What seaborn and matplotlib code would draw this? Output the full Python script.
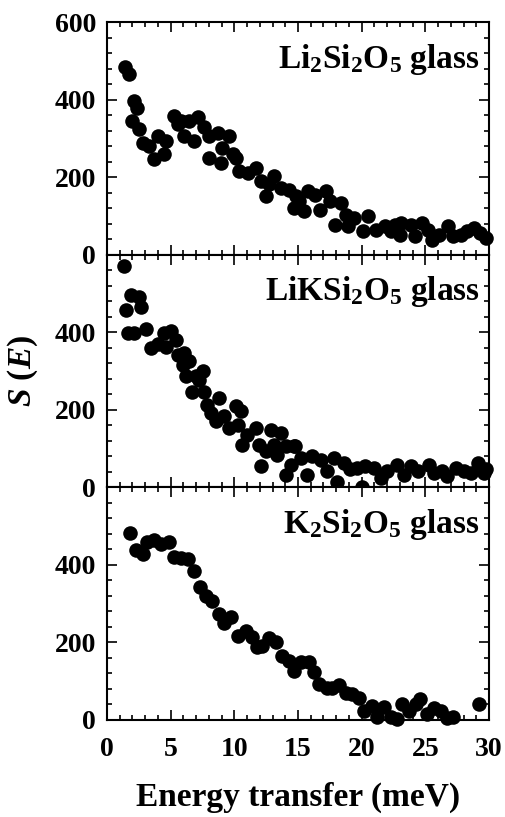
import numpy as np
import pandas as pd
import matplotlib
matplotlib.use("Agg")
import matplotlib.pyplot as plt
from matplotlib.ticker import MultipleLocator
import seaborn as sns

# ---- data ----
li_E = [1.42, 1.76, 2.15, 2.36, 1.94, 2.54, 2.8, 3.33, 3.98, 3.72, 4.5, 4.63, 5.29, 5.82, 5.55,
        6.07, 6.46, 6.8, 7.17, 7.64, 8.03, 8.03, 8.68, 8.94, 9.07, 9.59, 9.86, 10.12, 10.38, 11.04,
        11.69, 12.08, 12.47, 12.74, 13.13, 13.65, 14.3, 14.7, 14.83, 15.1, 15.5, 15.77, 16.3, 16.7,
        17.2, 17.5, 17.9, 18.4, 18.8, 18.9, 19.4, 20.1, 20.5, 21.1, 21.8, 22.3, 22.6, 23.1, 23.0,
        23.9, 24.2, 24.7, 25.2, 25.5, 26.1, 26.8, 27.2, 27.8, 28.3, 28.8, 29.3, 29.8]
li_S = [484, 467, 397, 378, 345, 324, 289, 280, 306, 246, 259, 293, 358, 345, 337,
        306, 345, 293, 356, 328, 306, 250, 315, 237, 276, 306, 259, 250, 216, 211,
        224, 190, 151, 181, 203, 172, 168, 120, 151, 138, 112, 164, 155, 116,
        165, 138, 77, 133, 103, 73, 94, 60, 99, 64, 73, 60, 77, 81, 51,
        77, 47, 81, 64, 38, 51, 73, 47, 51, 60, 68, 55, 42]

lik_E = [1.3, 1.88, 2.54, 1.49, 2.67, 1.61, 2.13, 3.06, 3.45, 3.97, 4.5, 5.02, 4.63, 5.41, 5.54,
         6.06, 6.45, 5.93, 6.2, 6.99, 7.5, 7.24, 6.64, 7.63, 7.89, 8.8, 8.15, 8.54, 9.2, 9.6,
         10.1, 10.5, 10.25, 10.64, 11.03, 11.68, 11.94, 12.07, 12.46, 12.86, 13.1, 13.37, 13.64,
         14.03, 14.42, 14.03, 14.68, 14.8, 15.2, 15.7, 16.1, 16.8, 17.3, 17.83, 18.1, 18.6, 19.1,
         19.66, 20.05, 20.3, 21.0, 21.5, 22.0, 22.8, 23.3, 23.85, 24.4, 25.3, 25.7, 26.3, 26.7,
         27.4, 28.0, 28.6, 29.1, 29.6, 29.8]
lik_S = [570, 497, 492, 458, 464, 398, 398, 409, 359, 369, 398, 402, 363, 381, 342,
         346, 325, 316, 286, 286, 299, 278, 247, 247, 213, 230, 191, 170, 183, 153,
         209, 196, 162, 110, 136, 153, 110, 54, 93, 149, 110, 84, 140,
         106, 58, 33, 106, 106, 76, 33, 80, 71, 41, 76, 15, 63, 46,
         50, 0, 54, 50, 24, 41, 58, 33, 54, 41, 58, 37, 41, 28,
         50, 41, 37, 63, 37, 46]

k_E = [1.83, 2.27, 2.79, 3.18, 3.71, 4.23, 4.89, 5.28, 5.8, 6.38, 6.8, 7.32, 7.76, 8.28, 8.8,
       9.2, 9.73, 10.25, 10.9, 11.42, 11.8, 12.2, 12.73, 13.25, 13.77, 14.3, 14.7, 15.2, 15.87,
       16.26, 16.65, 17.3, 17.7, 18.2, 18.75, 19.26, 19.8, 20.2, 20.8, 21.2, 21.75, 22.27, 22.8,
       23.2, 23.7, 24.24, 24.6, 25.15, 25.7, 26.2, 26.7, 27.2, 29.2]
k_S = [483, 438, 429, 458, 464, 454, 460, 421, 417, 415, 383, 344, 320, 306, 273,
       249, 265, 217, 230, 213, 187, 192, 212, 200, 166, 153, 127, 149, 149,
       123, 93, 83, 83, 91, 69, 67, 57, 24, 35, 7, 33, 7, 3,
       42, 24, 40, 55, 16, 31, 23, 6, 7, 42]

panel_labels = [r"Li$_2$Si$_2$O$_5$ glass", r"LiKSi$_2$O$_5$ glass", r"K$_2$Si$_2$O$_5$ glass"]
x_ticks = [0, 5, 10, 15, 20, 25, 30]
y_ticks_top = [0, 200, 400, 600]
y_ticks = [0, 200, 400]

# ---- style ----
sns.set_style("ticks")
plt.rcParams["font.family"] = ["Liberation Serif", "DejaVu Serif"]
plt.rcParams["font.weight"] = "bold"
plt.rcParams["text.color"] = "black"
plt.rcParams["xtick.color"] = "black"
plt.rcParams["ytick.color"] = "black"
plt.rcParams["axes.edgecolor"] = "black"
plt.rcParams["mathtext.fontset"] = "custom"
plt.rcParams["mathtext.rm"] = "Liberation Serif:bold"
plt.rcParams["mathtext.bf"] = "Liberation Serif:bold"
plt.rcParams["mathtext.it"] = "Liberation Serif:italic:bold"

fig = plt.figure(figsize=(5.05, 8.17), dpi=100)
left, right, bottom, top = 107/505, 489/505, 1 - 720/817, 1 - 22/817
h = (top - bottom) / 3
datasets = [(li_E, li_S), (lik_E, lik_S), (k_E, k_S)]
for i, (E, S) in enumerate(datasets):
    ax = fig.add_axes([left, top - (i + 1) * h, right - left, h])
    df = pd.DataFrame({"E": E, "S": S})
    sns.scatterplot(data=df, x="E", y="S", ax=ax, color="black", s=110,
                    linewidth=0, legend=False, zorder=3, clip_on=False)
    ax.set_xlim(0, 30)
    ax.set_ylim(0, 600)
    ax.set_xticks(x_ticks)
    ax.set_yticks(y_ticks_top if i == 0 else y_ticks)
    ax.xaxis.set_minor_locator(MultipleLocator(1))
    ax.yaxis.set_minor_locator(MultipleLocator(40))
    ax.tick_params(which="both", direction="in", top=True, right=True,
                   width=1.2, labelsize=20, pad=8, colors="black")
    ax.tick_params(axis="x", pad=12)
    ax.tick_params(which="major", length=7)
    ax.tick_params(which="minor", length=3.5)
    for sp in ax.spines.values():
        sp.set_linewidth(1.5)
        sp.set_visible(True)
        sp.set_color("black")
    ax.set_xlabel("")
    ax.set_ylabel("")
    if i < 2:
        ax.tick_params(axis="x", labelbottom=False)
    for lab in ax.get_xticklabels() + ax.get_yticklabels():
        lab.set_fontweight("bold")
    ax.text(0.975, 0.84, panel_labels[i], transform=ax.transAxes, ha="right",
            va="center", fontsize=24, fontweight="bold", color="black")

fig.text(23/505, 1 - 371/817, r"$S$ ($E$)", rotation=90, ha="center", va="center",
         fontsize=24, fontweight="bold", color="black")
fig.text((107 + 489) / 2 / 505, 1 - 797/817, "Energy transfer (meV)", ha="center",
         va="center", fontsize=24, fontweight="bold", color="black")

fig.savefig("out.png", dpi=100)
